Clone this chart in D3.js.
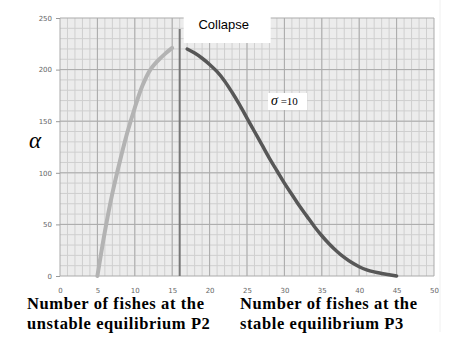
<!DOCTYPE html>
<html>
<head>
<meta charset="utf-8">
<script src="https://cdn.jsdelivr.net/npm/d3@7"></script>
<style>
  body { margin: 0; background: #fff; }
  svg { display: block; }
</style>
</head>
<body>
<div id="chart"></div>
<script>
// data
var unstableX = [5, 6, 7, 8, 9, 10, 11, 12, 13, 14, 15];
var unstableY = [0, 43, 80, 111, 139, 163, 184, 199, 208, 215, 221];
var stableX = [17, 18, 19, 20, 21, 22, 23, 24, 25, 26, 27, 28, 29, 30, 31,
               32, 33, 34, 35, 36, 37, 38, 39, 40, 41, 42, 43, 44, 45];
var stableY = [220, 216, 211, 205, 198, 189, 178, 166, 153, 140, 127, 114, 102, 90, 79,
               68, 58, 48, 39, 31, 24, 18, 13, 9, 6, 4, 2.5, 1.2, 0];
var collapseX = 16;
var xTicks = [0, 5, 10, 15, 20, 25, 30, 35, 40, 45, 50];
var yTicks = [0, 50, 100, 150, 200, 250];

var W = 450, H = 360;
var margin = {top: 18, right: 16, bottom: 84, left: 60};
var width = W - margin.left - margin.right,
    height = H - margin.top - margin.bottom;

var svg = d3.select("#chart").append("svg")
    .attr("width", W).attr("height", H);

var g = svg.append("g")
    .attr("transform", "translate(" + margin.left + "," + margin.top + ")");

var x = d3.scaleLinear().domain([0, 50]).range([0, width]);
var y = d3.scaleLinear().domain([0, 250]).range([height, 0]);

// plot background
g.append("rect")
    .attr("width", width).attr("height", height)
    .attr("fill", "#ececec");

// minor grid
g.append("g").selectAll("line")
    .data(d3.range(1, 50))
    .enter().append("line")
    .attr("x1", function(d) { return x(d); }).attr("x2", function(d) { return x(d); })
    .attr("y1", 0).attr("y2", height)
    .attr("stroke", "#cfcfcf").attr("stroke-width", 1);
g.append("g").selectAll("line")
    .data(d3.range(10, 250, 10))
    .enter().append("line")
    .attr("y1", function(d) { return y(d); }).attr("y2", function(d) { return y(d); })
    .attr("x1", 0).attr("x2", width)
    .attr("stroke", "#cfcfcf").attr("stroke-width", 1);

// major grid
g.append("g").selectAll("line")
    .data(xTicks)
    .enter().append("line")
    .attr("x1", function(d) { return x(d); }).attr("x2", function(d) { return x(d); })
    .attr("y1", 0).attr("y2", height)
    .attr("stroke", "#ababab").attr("stroke-width", 1);
g.append("g").selectAll("line")
    .data(yTicks)
    .enter().append("line")
    .attr("y1", function(d) { return y(d); }).attr("y2", function(d) { return y(d); })
    .attr("x1", 0).attr("x2", width)
    .attr("stroke", "#ababab").attr("stroke-width", 1);

// axes
var xAxis = g.append("g")
    .attr("transform", "translate(0," + height + ")")
    .call(d3.axisBottom(x).tickValues(xTicks).tickSize(0).tickPadding(12));
var yAxis = g.append("g")
    .call(d3.axisLeft(y).tickValues(yTicks).tickSize(4).tickPadding(4));
[xAxis, yAxis].forEach(function(a) {
  a.select(".domain").remove();
  a.selectAll("text")
    .style("font-family", "DejaVu Sans, sans-serif")
    .style("font-size", "7px")
    .attr("fill", "#666");
  a.selectAll("line").attr("stroke", "#999");
});

// white box behind Collapse label
g.append("rect")
    .attr("x", x(collapseX) + 4).attr("y", -margin.top)
    .attr("width", 87).attr("height", 43)
    .attr("fill", "#fff");

// curves
var line = d3.line()
    .x(function(d) { return x(d[0]); })
    .y(function(d) { return y(d[1]); })
    .curve(d3.curveCatmullRom);

g.append("path")
    .datum(d3.zip(unstableX, unstableY))
    .attr("d", line)
    .attr("fill", "none")
    .attr("stroke", "#b3b3b3")
    .attr("stroke-width", 4)
    .attr("stroke-linecap", "round");

g.append("path")
    .datum(d3.zip(stableX, stableY))
    .attr("d", line)
    .attr("fill", "none")
    .attr("stroke", "#575757")
    .attr("stroke-width", 3.5)
    .attr("stroke-linecap", "round");

// collapse line
g.append("line")
    .attr("x1", x(collapseX)).attr("x2", x(collapseX))
    .attr("y1", 11).attr("y2", height)
    .attr("stroke", "#777").attr("stroke-width", 2);

g.append("text")
    .attr("x", x(collapseX) + 44).attr("y", 11)
    .attr("text-anchor", "middle")
    .style("font-family", "Liberation Sans, Arial, sans-serif")
    .style("font-size", "13px")
    .attr("fill", "#000")
    .text("Collapse");

// sigma label
g.append("rect")
    .attr("x", 208).attr("y", 75)
    .attr("width", 39).attr("height", 17)
    .attr("fill", "#fff");
var sig = g.append("text")
    .attr("x", 211).attr("y", 87)
    .style("font-family", "Liberation Serif, serif")
    .style("font-size", "11px")
    .attr("fill", "#000");
sig.append("tspan").style("font-style", "italic").style("font-size", "14px").text("σ");
sig.append("tspan").text(" =10");

// alpha axis label
svg.append("text")
    .attr("x", 29).attr("y", 148)
    .style("font-family", "Liberation Serif, serif")
    .style("font-style", "italic")
    .style("font-size", "23px")
    .attr("fill", "#000")
    .text("α");

// bottom captions
var captions = [
  {x: 27, lines: ["Number of fishes at the", "unstable equilibrium P2"]},
  {x: 240, lines: ["Number of fishes at the", "stable equilibrium P3"]}
];
captions.forEach(function(c) {
  c.lines.forEach(function(t, i) {
    svg.append("text")
      .attr("x", c.x).attr("y", 309 + i * 20)
      .style("font-family", "Liberation Serif, serif")
      .style("font-weight", "bold")
      .style("font-size", "16.5px")
      .style("letter-spacing", "0.6px")
      .attr("fill", "#000")
      .text(t);
  });
});

// faint frame edge at the right
svg.append("line")
    .attr("x1", 440).attr("x2", 440).attr("y1", 0).attr("y2", 332)
    .attr("stroke", "#f0f0f0");
</script>
</body>
</html>
